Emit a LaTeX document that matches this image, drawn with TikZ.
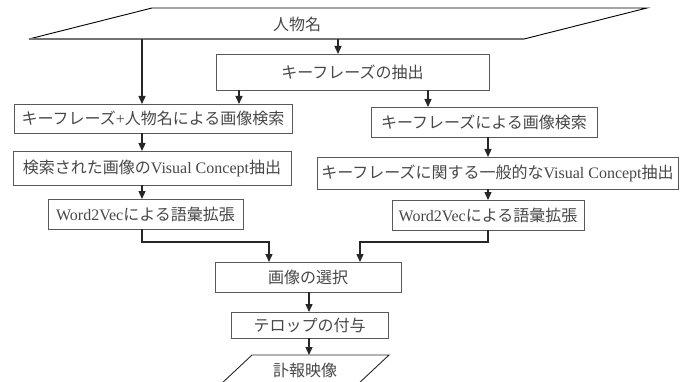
\documentclass[tikz,border=0pt]{standalone}
\usepackage{fontspec}
\setmainfont{Liberation Serif}
\newfontfamily\jp{Noto Sans CJK JP}
\usetikzlibrary{arrows.meta}
\newcommand{\J}[1]{{\jp #1}}
\newcommand{\fsz}{\fontsize{16}{19}\selectfont}
\begin{document}
\begin{tikzpicture}[x=1pt,y=-1pt,
  box/.style={draw=black!65, line width=0.9pt, inner sep=0pt, outer sep=0pt, text=black!72, font=\fsz},
  lbl/.style={inner sep=0pt, text=black!72, font=\fsz},
  arr/.style={draw=black!85, line width=1.4pt, -{Triangle[length=8pt,width=7pt]}},
  ln/.style={draw=black!85, line width=1.4pt}]
\useasboundingbox (0,0) rectangle (687,382);
% input parallelogram
\draw[black, line width=0.9pt] (29,39) -- (152,8) -- (647,8) -- (524,39);
\draw[black!55, line width=1.4pt] (524,39) -- (29,39);
\node[lbl] (in) at (297,24) {\J{人物名}};
% boxes
\node[box, minimum width=273, minimum height=36] (kp) at (352.5,72) {\J{キーフレーズの抽出}};
\node[box, minimum width=278, minimum height=29] (L1) at (153,118.5) {\J{キーフレーズ}+\J{人物名による画像検索}};
\node[box, minimum width=278, minimum height=34] (L2) at (152,168) {\J{検索された画像の}Visual Concept\J{抽出}};
\node[box, minimum width=195, minimum height=30] (L3) at (145.5,214) {Word2Vec\J{による語彙拡張}};
\node[box, minimum width=226, minimum height=30] (R1) at (484,122) {\J{キーフレーズによる画像検索}};
\node[box, minimum width=361, minimum height=32] (R2) at (497.5,173) {\J{キーフレーズに関する一般的な}Visual Concept\J{抽出}};
\node[box, minimum width=192, minimum height=30] (R3) at (488,215) {Word2Vec\J{による語彙拡張}};
\node[box, minimum width=186, minimum height=30] (sel) at (308,277) {\J{画像の選択}};
\node[box, minimum width=157, minimum height=26] (tel) at (309.5,325) {\J{テロップの付与}};
% output parallelogram
\draw[black!85, line width=0.9pt] (220,385) -- (252,355) -- (389,355) -- (357,385);
\node[lbl] (out) at (305,370) {\J{訃報映像}};
% helper coordinates
\coordinate (pb) at (0,39);
\coordinate (ptop) at (0,355);
\coordinate (hy) at (0,242);
\coordinate (cL) at (142,0);
\coordinate (kx) at (338,0);
\coordinate (xa) at (239,0);
\coordinate (xb) at (428,0);
\coordinate (cR) at (488,0);
\coordinate (xl) at (269,0);
\coordinate (xr) at (360,0);
\coordinate (cM) at (309,0);
% connectors
\draw[arr] (pb -| cL) -- (L1.north -| cL);
\draw[arr] (pb -| kx) -- (kp.north -| kx);
\draw[arr] (kp.south -| xa) -- (L1.north -| xa);
\draw[arr] (kp.south -| xb) -- (R1.north -| xb);
\draw[arr] (L1.south -| cL) -- (L2.north -| cL);
\draw[arr] (L2.south -| cL) -- (L3.north -| cL);
\draw[arr] (R1.south -| cR) -- (R2.north -| cR);
\draw[arr] (R2.south -| cR) -- (R3.north -| cR);
\draw[arr] (L3.south -| cL) -- (hy -| cL) -- (hy -| xl) -- (sel.north -| xl);
\draw[arr] (R3.south -| cR) -- (hy -| cR) -- (hy -| xr) -- (sel.north -| xr);
\draw[arr] (sel.south -| cM) -- (tel.north -| cM);
\draw[arr] (tel.south -| cM) -- (ptop -| cM);
\end{tikzpicture}
\end{document}
